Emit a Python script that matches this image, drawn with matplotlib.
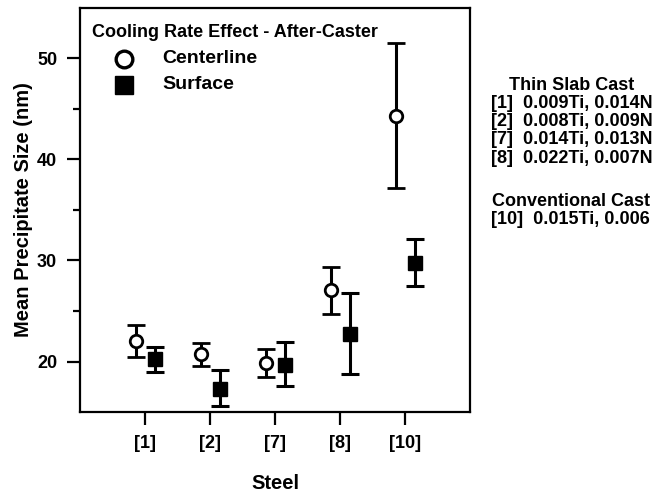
import matplotlib.pyplot as plt
import numpy as np

plt.rcParams['font.family'] = ['Liberation Sans', 'DejaVu Sans']
plt.rcParams['font.weight'] = 'bold'

steels = ['[1]', '[2]', '[7]', '[8]', '[10]']
center_mean = [22.0, 20.7, 19.85, 27.05, 44.3]
center_lo = [20.45, 19.6, 18.5, 24.75, 37.15]
center_hi = [23.6, 21.85, 21.2, 29.35, 51.55]
surf_mean = [20.2, 17.3, 19.7, 22.75, 29.8]
surf_lo = [19.0, 15.55, 17.55, 18.8, 27.5]
surf_hi = [21.4, 19.2, 21.95, 26.75, 32.1]

x = np.arange(1, len(steels) + 1)
cm = np.array(center_mean)
sm = np.array(surf_mean)
c_err = [cm - np.array(center_lo), np.array(center_hi) - cm]
s_err = [sm - np.array(surf_lo), np.array(surf_hi) - sm]

fig = plt.figure(figsize=(6.63, 4.93), dpi=100)
ax = fig.add_axes([80 / 663, 1 - 412 / 493, 390 / 663, 404 / 493])

ax.errorbar(x - 0.14, cm, yerr=c_err, fmt='o', mfc='white', mec='black', mew=2,
            ms=9, color='black', elinewidth=2.2, capsize=6.5, capthick=2.2)
ax.errorbar(x + 0.15, sm, yerr=s_err, fmt='s', mfc='black', mec='black',
            ms=9.5, color='black', elinewidth=2.2, capsize=6.5, capthick=2.2)

ax.set_xlim(0, 6)
ax.set_ylim(15, 55)
ax.set_xticks(x)
ax.set_xticklabels(steels)
ax.set_yticks([20, 30, 40, 50])
ax.set_yticks([25, 35, 45], minor=True)
ax.tick_params(axis='both', which='major', length=9.5, width=1.6, labelsize=13, pad=7)
ax.tick_params(axis='y', which='minor', length=5, width=1.6)
for s in ax.spines.values():
    s.set_linewidth(1.6)

ax.set_xlabel('Steel', fontsize=14.5, fontweight='bold', labelpad=16)
ax.set_ylabel('Mean Precipitate Size (nm)', fontsize=14.5, fontweight='bold', labelpad=3)

# legend drawn by hand
ax.text(0.031, 0.939, 'Cooling Rate Effect - After-Caster', transform=ax.transAxes,
        fontsize=13, fontweight='bold', va='center')
ax.plot([0.113], [0.874], 'o', transform=ax.transAxes, ms=12, mfc='white', mec='black', mew=2.4)
ax.text(0.21, 0.874, 'Centerline', transform=ax.transAxes, fontsize=14, fontweight='bold', va='center')
ax.plot([0.113], [0.81], 's', transform=ax.transAxes, ms=13, mfc='black', mec='black')
ax.text(0.21, 0.81, 'Surface', transform=ax.transAxes, fontsize=14, fontweight='bold', va='center')

# composition notes
notes = ['[1]  0.009Ti, 0.014N', '[2]  0.008Ti, 0.009N',
         '[7]  0.014Ti, 0.013N', '[8]  0.022Ti, 0.007N']
fig.text(572 / 663, 1 - 86 / 493, 'Thin Slab Cast', ha='center', va='center', fontsize=13)
for i, n in enumerate(notes):
    fig.text(491 / 663, 1 - (103 + 18.4 * i) / 493, n, ha='left', va='center', fontsize=13)
fig.text(571 / 663, 1 - 202 / 493, 'Conventional Cast', ha='center', va='center', fontsize=13)
fig.text(491 / 663, 1 - 219.5 / 493, '[10]  0.015Ti, 0.006', ha='left', va='center', fontsize=13)

fig.savefig('out.png', dpi=100)
